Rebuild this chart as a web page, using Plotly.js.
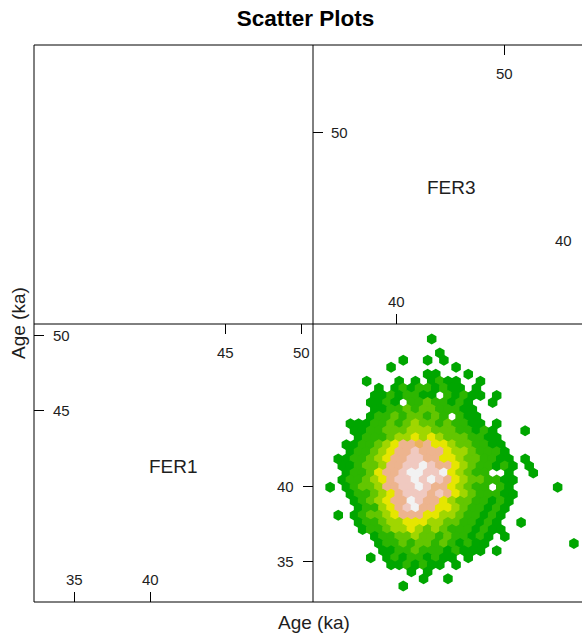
<!DOCTYPE html>
<html><head><meta charset="utf-8">
<script src="https://cdn.plot.ly/plotly-3.0.1.min.js"></script>
<style>html,body{margin:0;padding:0;background:#fff}#chart{width:582px;height:637px}</style>
</head><body><div id="chart"></div>
<script>
// ---------------- data ----------------
const chartTitle = "Scatter Plots";
const axisLabel = "Age (ka)";
const varNames = ["FER1", "FER3"];
const fer1Range = [32.3, 50.76];
const fer3Range = [32.3, 58.05];

const fer1LeftTicks = [45, 50];
const fer1RightTicks = [35, 40];
const fer1TopTicks = [45, 50];
const fer1BottomTicks = [35, 40];
const fer3LeftTicks = [50];
const fer3RightTicks = [40];
const fer3TopTicks = [50];
const fer3BottomTicks = [40];

// hexbin of FER3 (x) vs FER1 (y): one entry per hex row (top -> bottom),
// segments [first column, colour level per cell]
const hexRows = [
 [[12,"0"]],
 [],
 [[13,"0"]],
 [[9,"0"],[12,"0"],[14,"0"]],
 [[7,"0"],[15,"0"]],
 [[12,"00"],[17,"0"]],
 [[4,"0"],[8,"0"],[10,"0"],[12,"0100"],[18,"0"]],
 [[6,"0"],[8,"010110100"],[18,"0"]],
 [[5,"00101100"],[14,"10100"],[20,"0"]],
 [[5,"0010"],[10,"11211010"],[20,"0"]],
 [[5,"0011212211100"]],
 [[5,"0112122121"],[16,"100"]],
 [[2,"00011212322121100"],[20,"0"]],
 [[3,"001122233322211010"],[24,"0"]],
 [[3,"011123343432221100"]],
 [[2,"00112347767443221100"]],
 [[2,"01123477877743321110"]],
 [[1,"0011234778877443221100"],[24,"0"]],
 [[1,"0012237788987743211010"],[24,"0"]],
 [[2,"011247789988943211"],[22,"0"],[25,"0"]],
 [[1,"0112347889898743221100"]],
 [[0,"0"],[2,"012237788987743211"],[21,"10"],[28,"0"]],
 [[2,"011234788878743211100"]],
 [[3,"01234779877432211010"]],
 [[3,"0113478977443211010"]],
 [[1,"0"],[3,"0122347774433211010"]],
 [[3,"011233444332211010"],[23,"0"]],
 [[4,"011233432321110100"]],
 [[5,"011223221211010"],[21,"0"]],
 [[6,"01121221210100"],[30,"0"]],
 [[6,"0011211101000"],[20,"0"]],
 [[5,"0"],[7,"010110100"],[17,"0"]],
 [[7,"0010100"],[15,"0"]],
 [[10,"0"],[12,"0"]],
 [[11,"0"],[14,"0"]],
 [[9,"0"]]
];
const hexLevelColors = ["#00A600","#2DB600","#63C600","#A0D600","#E6E600",
                        "#E8C32E","#EBB25E","#EDB48E","#F0C9C0","#F2F2F2"];
// hex bin grid (data units)
const hexX0 = 34.255, hexDX = 0.75, hexY0 = 49.765, hexDY = 0.4685;

// ---------------- layout geometry (pixels) ----------------
const W = 582, H = 637;
const L = 34, MX = 313, RX = 592, T = 45, MY = 324, B = 602;
const px = x => x / W;
const py = y => 1 - y / H;
const FONT = "Liberation Sans, Arial, sans-serif";
const TXT = "#1e1e1e";

const fer3VisibleMax = fer3Range[0] + (W - MX) / (RX - MX) * (fer3Range[1] - fer3Range[0]);

// hex trace
const hx = [], hy = [], hc = [];
hexRows.forEach((segs, r) => {
  segs.forEach(([start, lv]) => {
    for (let i = 0; i < lv.length; i++) {
      const c = start + i;
      hx.push(hexX0 + hexDX * (c - (r % 2 ? 0.5 : 0)));
      hy.push(hexY0 - hexDY * r);
      hc.push(hexLevelColors[+lv[i]]);
    }
  });
});

const traces = [
  {type:'scatter', mode:'markers', x:hx, y:hy, xaxis:'x2', yaxis:'y',
   marker:{symbol:'hexagon', size:11, color:hc, line:{width:0}},
   hoverinfo:'skip', showlegend:false},
  {type:'scatter', x:[], y:[], xaxis:'x', yaxis:'y', showlegend:false},
  {type:'scatter', x:[], y:[], xaxis:'x2', yaxis:'y2', showlegend:false},
  {type:'scatter', x:[], y:[], xaxis:'x3', yaxis:'y3', showlegend:false},
  {type:'scatter', x:[], y:[], xaxis:'x4', yaxis:'y4', showlegend:false}
];

const tickAx = (o) => Object.assign({
  ticks:'inside', ticklen:10, tickwidth:1, tickcolor:'#000',
  showticklabels:false, showline:false, showgrid:false, zeroline:false,
  fixedrange:true, tickmode:'array'
}, o);

const ann = [];
const tickFont = {family:FONT, size:15, color:TXT};
const addLab = (o) => ann.push(Object.assign({showarrow:false, font:tickFont,
  xanchor:'center', yanchor:'middle'}, o));

fer1LeftTicks.forEach(v => addLab({xref:'paper', x:px(61.5), yref:'y', y:v, text:String(v)}));
fer1RightTicks.forEach(v => addLab({xref:'paper', x:px(285), yref:'y', y:v, text:String(v)}));
fer1TopTicks.forEach(v => addLab({xref:'x', x:v, yref:'paper', y:py(352), text:String(v)}));
fer1BottomTicks.forEach(v => addLab({xref:'x', x:v, yref:'paper', y:py(579), text:String(v)}));
fer3LeftTicks.forEach(v => addLab({xref:'paper', x:px(339.5), yref:'y2', y:v, text:String(v)}));
fer3RightTicks.forEach(v => addLab({xref:'paper', x:px(563.5), yref:'y2', y:v, text:String(v)}));
fer3TopTicks.forEach(v => addLab({xref:'x2', x:v, yref:'paper', y:py(73.5), text:String(v)}));
fer3BottomTicks.forEach(v => addLab({xref:'x2', x:v, yref:'paper', y:py(301.5), text:String(v)}));

const nameFont = {family:FONT, size:19, color:TXT};
const addName = (o) => ann.push(Object.assign({showarrow:false, font:nameFont,
  xanchor:'center', yanchor:'middle'}, o));
addName({xref:'paper', x:px((L+MX)/2), yref:'paper', y:py(466), text:varNames[0]});
addName({xref:'paper', x:px(451), yref:'paper', y:py(187), text:varNames[1]});
addName({xref:'paper', x:px(314), yref:'paper', y:py(622), text:axisLabel});
addName({xref:'paper', x:px(18), yref:'paper', y:py(323), text:axisLabel, textangle:-90});

const lineStyle = {color:'#000', width:1};
const shapes = [
  {type:'line', xref:'paper', yref:'paper', x0:px(L), x1:1, y0:py(T), y1:py(T), line:lineStyle},
  {type:'line', xref:'paper', yref:'paper', x0:px(L), x1:1, y0:py(B), y1:py(B), line:lineStyle},
  {type:'line', xref:'paper', yref:'paper', x0:px(L), x1:1, y0:py(MY), y1:py(MY), line:lineStyle},
  {type:'line', xref:'paper', yref:'paper', x0:px(L), x1:px(L), y0:py(T), y1:py(B), line:lineStyle},
  {type:'line', xref:'paper', yref:'paper', x0:px(MX), x1:px(MX), y0:py(T), y1:py(B), line:lineStyle}
];

const layout = {
  width:W, height:H, margin:{l:0, r:0, t:0, b:0},
  paper_bgcolor:'#fff', plot_bgcolor:'rgba(0,0,0,0)',
  showlegend:false, hovermode:false,
  title:{text:chartTitle, x:px(305.5), xanchor:'center', xref:'paper',
         y:py(18), yanchor:'middle', yref:'container',
         font:{family:FONT, size:22.5, weight:'bold', color:'#000'}},
  xaxis: tickAx({domain:[px(L), px(MX)], range:fer1Range, anchor:'y', side:'bottom', tickvals:fer1BottomTicks}),
  yaxis: tickAx({domain:[py(B), py(MY)], range:fer1Range, anchor:'x', side:'left', tickvals:fer1LeftTicks}),
  xaxis3: tickAx({overlaying:'x', range:fer1Range, anchor:'y', side:'top', tickvals:fer1TopTicks}),
  yaxis3: tickAx({overlaying:'y', range:fer1Range, anchor:'x', side:'right', tickvals:fer1RightTicks}),
  xaxis2: tickAx({domain:[px(MX), 1], range:[fer3Range[0], fer3VisibleMax], anchor:'y2', side:'bottom', tickvals:fer3BottomTicks}),
  yaxis2: tickAx({domain:[py(MY), py(T)], range:fer3Range, anchor:'x2', side:'left', tickvals:fer3LeftTicks}),
  xaxis4: tickAx({overlaying:'x2', range:[fer3Range[0], fer3VisibleMax], anchor:'y2', side:'top', tickvals:fer3TopTicks}),
  yaxis4: tickAx({overlaying:'y2', range:fer3Range, anchor:'x2', side:'right', tickvals:[], ticks:''}),
  annotations:ann, shapes:shapes
};

Plotly.newPlot('chart', traces, layout, {displayModeBar:false, staticPlot:true});
</script></body></html>
